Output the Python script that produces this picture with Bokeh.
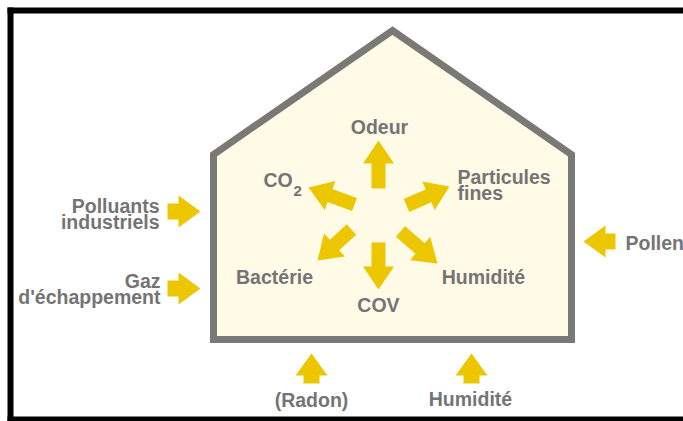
import numpy as np
from bokeh.plotting import figure
from bokeh.models import Range1d
from bokeh.core.properties import value
from bokeh.embed import file_html
from bokeh.resources import INLINE

# ---- data ----
house_x = [213, 213, 392, 571, 571]
house_y = [339, 154, 30, 154, 339]

# inner arrows (tail -> tip)
in_tail_x = [378, 378, 354, 406, 351, 400]
in_tail_y = [188, 242, 204, 205, 229, 231]
in_tip_x = [378, 378, 308, 449, 317, 437]
in_tip_y = [140, 289, 187, 186, 260, 263]

# outer arrows (tail -> tip)
out_tail_x = [167, 167, 615, 311, 471]
out_tail_y = [211, 288, 241, 383, 383]
out_tip_x = [200, 200, 583, 311, 471]
out_tip_y = [211, 288, 241, 353, 353]

labels = ["Odeur", "CO", "Particules", "fines", "Bactérie", "COV", "Humidité",
          "Polluants", "industriels", "Gaz", "d'échappement", "Pollen",
          "(Radon)", "Humidité"]
label_x = [379, 263, 457, 457, 274, 378, 483, 159, 159, 160, 160, 625, 311, 470]
label_y = [126, 179, 176, 192, 276, 304, 276, 205, 221, 280, 296, 242, 399, 398]
label_align = ["center", "left", "left", "left", "center", "center", "center",
               "right", "right", "right", "right", "left", "center", "center"]
sub_label = ["2"]
sub_x = [293]
sub_y = [190]

YELLOW = "#ecc700"
GRAY = "#7a7975"
TEXT = "#747474"


def arrow(tx, ty, hx, hy, shaft, head, hlen):
    d = np.array([hx - tx, hy - ty], dtype=float)
    L = np.hypot(*d)
    u = d / L
    n = np.array([-u[1], u[0]])
    t = np.array([tx, ty], dtype=float)
    b = t + u * (L - hlen)
    pts = [t + n * shaft / 2, b + n * shaft / 2, b + n * head / 2,
           np.array([hx, hy], float), b - n * head / 2, b - n * shaft / 2,
           t - n * shaft / 2]
    return [p[0] for p in pts], [p[1] for p in pts]


p = figure(width=683, height=421, x_range=Range1d(0, 683), y_range=Range1d(421, 0),
           output_backend="svg", toolbar_location=None, min_border=0)
p.axis.visible = False
p.grid.visible = False
p.outline_line_color = None
p.background_fill_color = "white"
p.border_fill_color = "white"

# black frame (left, top, bottom)
p.multi_line(xs=[[10, 10], [7, 700], [7, 700]], ys=[[7, 421], [10, 10], [419, 419]],
             line_color="black", line_width=6)

# house
p.patch(house_x, house_y, fill_color="#fffbe7", line_color=GRAY, line_width=7,
        line_join="miter")

xs, ys = [], []
for a, b, c, d in zip(in_tail_x, in_tail_y, in_tip_x, in_tip_y):
    x, y = arrow(a, b, c, d, 14, 31, 23)
    xs.append(x); ys.append(y)
for a, b, c, d in zip(out_tail_x, out_tail_y, out_tip_x, out_tip_y):
    x, y = arrow(a, b, c, d, 16, 32, 22)
    xs.append(x); ys.append(y)
p.patches(xs, ys, fill_color=YELLOW, line_color=None)

for t, x, y, al in zip(labels, label_x, label_y, label_align):
    p.text(x=[x], y=[y], text=[t], text_align=al, text_baseline="middle",
           text_font=value("Liberation Sans"), text_font_style="bold",
           text_font_size="19.5px", text_color=TEXT)
p.text(x=sub_x, y=sub_y, text=sub_label, text_align="left", text_baseline="middle",
       text_font=value("Liberation Sans"), text_font_style="bold",
       text_font_size="15px", text_color=TEXT)

open("out.html", "w").write(file_html(p, INLINE))
